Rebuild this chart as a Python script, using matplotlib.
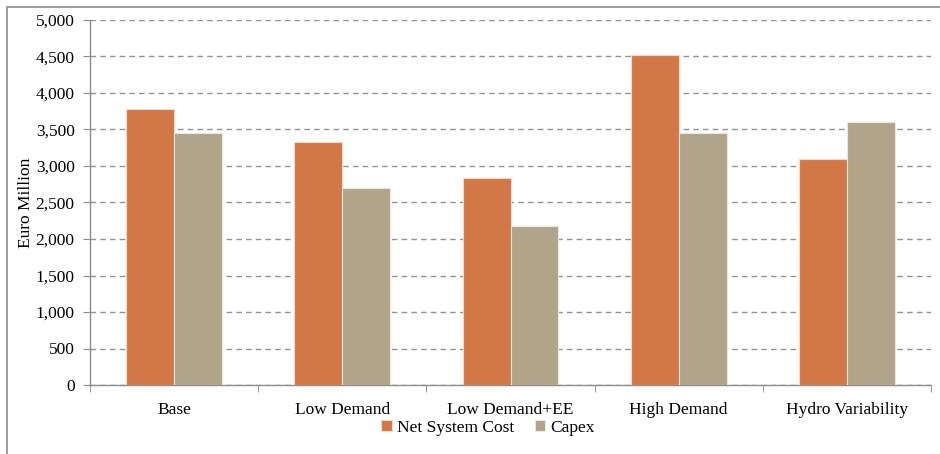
import matplotlib
matplotlib.use("Agg")
import matplotlib.pyplot as plt
from matplotlib.patches import Rectangle
import numpy as np

categories = ["Base", "Low Demand", "Low Demand+EE", "High Demand", "Hydro Variability"]
net_system_cost = [3775, 3325, 2830, 4520, 3092]
capex = [3448, 2703, 2175, 3448, 3607]
yticks = [0, 500, 1000, 1500, 2000, 2500, 3000, 3500, 4000, 4500, 5000]

plt.rcParams["font.family"] = ["Liberation Serif", "DejaVu Serif"]

fig = plt.figure(figsize=(9.4, 4.54), dpi=100)
ax = fig.add_axes([90 / 940, 1 - 385 / 454, (931 - 90) / 940, (385 - 20) / 454])

x = np.arange(len(categories))
w = 0.285
c_nsc = "#D27746"
c_cap = "#B0A48B"
ax.bar(x - w / 2, net_system_cost, w, color=c_nsc, edgecolor="#F3D9C9", linewidth=0.8,
       label="Net System Cost", zorder=3)
ax.bar(x + w / 2, capex, w, color=c_cap, edgecolor="#EDE8DF", linewidth=0.8,
       label="Capex", zorder=3)

ax.set_xlim(-0.5, len(categories) - 0.5)
ax.set_ylim(0, 5000)
ax.set_yticks(yticks)
ax.set_yticklabels([f"{v:,}" for v in yticks], fontsize=12.5)
ax.yaxis.grid(True, linestyle=(0, (4, 3)), color="#939393", linewidth=1.0, zorder=0)
ax.set_axisbelow(True)

ax.set_xticks(x)
ax.set_xticklabels(categories, fontsize=12.5)
ax.tick_params(axis="x", length=0, pad=12)
ax.set_xticks(np.arange(len(categories) + 1) - 0.5, minor=True)
ax.tick_params(axis="x", which="minor", length=5, color="#8C8C8C", direction="out")
ax.tick_params(axis="y", length=5, color="#8C8C8C", direction="out", pad=6)

for s in ["top", "right"]:
    ax.spines[s].set_visible(False)
for s in ["left", "bottom"]:
    ax.spines[s].set_color("#8C8C8C")
    ax.spines[s].set_linewidth(1.0)

ax.set_ylabel("Euro Million", fontsize=12.5, labelpad=1)

leg = fig.legend(loc="center", bbox_to_anchor=(488 / 940, 1 - 428 / 454), ncol=2,
                 frameon=False, fontsize=12.5, handlelength=0.6, handleheight=0.6,
                 handletextpad=0.3, columnspacing=1.2)

# outer frame of the chart area
fig.patches.append(Rectangle((7 / 940, -0.1), 1.2, 1 - 7 / 454 + 0.1,
                             transform=fig.transFigure, fill=False,
                             edgecolor="#8C8C8C", linewidth=1.2))

fig.savefig("out.png", dpi=100)
